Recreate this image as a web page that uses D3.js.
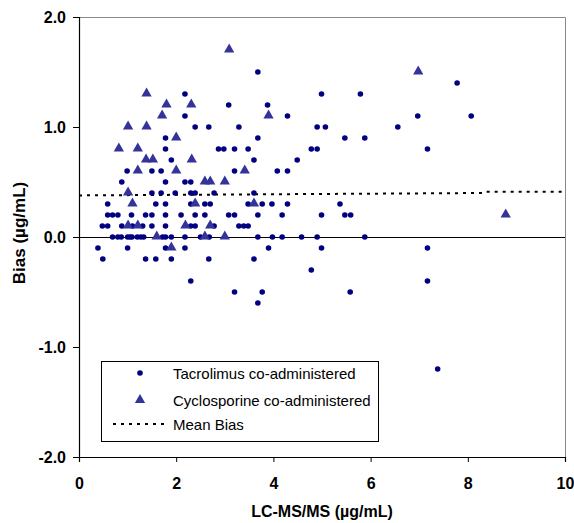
<!DOCTYPE html>
<html>
<head>
<meta charset="utf-8">
<script src="https://cdn.jsdelivr.net/npm/d3@7"></script>
<style>
  body { margin: 0; background: #fff; }
  text { font-family: "Liberation Sans", Arial, sans-serif; }
</style>
</head>
<body>
<svg id="chart" width="574" height="523"></svg>
<script>
// Bias vs LC-MS/MS scatter

// --- Data: [LC-MS/MS, bias] ---
const tacrolimus = [
    [3.68, 1.5], [7.78, 1.4],
    [2.18, 1.3], [4.99, 1.3], [5.79, 1.3],
    [3.08, 1.2], [3.88, 1.2],
    [2.18, 1.1], [4.29, 1.1], [6.97, 1.1], [8.07, 1.1],
    [2.39, 1.0], [2.67, 1.0], [3.29, 1.0], [4.9, 1.0], [5.07, 1.0], [6.56, 1.0],
    [1.78, 0.9], [3.68, 0.9], [5.47, 0.9], [5.88, 0.9],
    [1.78, 0.8], [2.87, 0.8], [2.98, 0.8], [3.2, 0.8], [3.48, 0.8], [4.78, 0.8], [4.9, 0.8], [7.17, 0.8],
    [1.9, 0.7], [3.6, 0.7], [4.49, 0.7],
    [0.99, 0.6], [1.5, 0.6], [1.69, 0.6], [3.2, 0.6], [4.08, 0.6], [4.29, 0.6],
    [0.88, 0.5], [1.78, 0.5], [2.18, 0.5], [2.3, 0.5],
    [1.5, 0.4], [1.69, 0.4], [1.98, 0.4], [2.3, 0.4], [2.39, 0.4], [2.78, 0.4], [3.6, 0.4],
    [0.59, 0.3], [1.58, 0.3], [1.78, 0.3], [2.3, 0.3], [2.59, 0.3], [2.7, 0.3], [3.48, 0.3],
    [3.77, 0.3], [3.97, 0.3], [4.29, 0.3], [5.37, 0.3],
    [0.59, 0.2], [0.69, 0.2], [0.8, 0.2], [1.08, 0.2], [1.37, 0.2], [1.5, 0.2], [1.78, 0.2],
    [2.1, 0.2], [2.39, 0.2], [2.59, 0.2], [3.08, 0.2], [3.2, 0.2], [3.68, 0.2], [4.18, 0.2],
    [4.99, 0.2], [5.47, 0.2], [5.59, 0.2],
    [0.48, 0.1], [0.59, 0.1], [0.88, 0.1], [1.1, 0.1], [1.31, 0.1], [1.5, 0.1], [1.78, 0.1],
    [2.3, 0.1], [2.39, 0.1], [2.78, 0.1], [3.29, 0.1], [3.39, 0.1], [3.48, 0.1],
    [0.69, 0.0], [0.8, 0.0], [0.87, 0.0], [1.0, 0.0], [1.05, 0.0], [1.09, 0.0], [1.2, 0.0],
    [1.27, 0.0], [1.33, 0.0], [1.72, 0.0], [1.78, 0.0], [1.9, 0.0], [2.18, 0.0], [2.5, 0.0],
    [2.68, 0.0], [3.68, 0.0], [3.98, 0.0], [4.18, 0.0], [4.58, 0.0], [4.9, 0.0], [5.88, 0.0],
    [0.39, -0.1], [1.0, -0.1], [1.78, -0.1], [2.18, -0.1], [3.9, -0.1], [4.99, -0.1], [7.17, -0.1],
    [0.49, -0.2], [1.37, -0.2], [1.58, -0.2], [1.9, -0.2], [2.67, -0.2], [3.6, -0.2],
    [4.78, -0.3],
    [2.3, -0.4], [7.17, -0.4],
    [3.2, -0.5], [3.77, -0.5], [5.58, -0.5],
    [3.68, -0.6],
    [7.38, -1.2]
];

const cyclosporine = [
    [3.09, 1.7], [6.98, 1.5], [1.39, 1.3],
    [1.8, 1.2], [2.31, 1.2], [1.71, 1.1], [3.9, 1.1],
    [1.01, 1.0], [1.39, 1.0], [2.0, 0.9],
    [0.82, 0.8], [1.21, 0.8],
    [1.38, 0.7], [1.52, 0.7], [2.32, 0.7],
    [1.21, 0.6], [2.0, 0.6], [3.41, 0.6],
    [2.59, 0.5], [2.7, 0.5], [3.0, 0.5],
    [1.01, 0.4],
    [1.1, 0.3], [2.39, 0.3], [3.6, 0.3],
    [8.78, 0.2],
    [1.01, 0.1], [1.21, 0.1], [2.19, 0.1], [2.7, 0.1],
    [1.6, 0.0], [2.59, 0.0], [3.0, 0.0],
    [1.9, -0.1]
];

const meanBiasX = [0, 8.3, 8.35, 10];
const meanBiasY = [0.378, 0.40, 0.412, 0.412];

const xTicks = [0, 2, 4, 6, 8, 10];
const yTicks = [-2, -1, 0, 1, 2];

const legendLabels = ["Tacrolimus co-administered", "Cyclosporine co-administered", "Mean Bias"];

// --- Layout ---
const svg = d3.select("#chart");
const margin = { top: 17, right: 9, bottom: 66, left: 79 };
const W = 574, H = 523;
const plotW = W - margin.left - margin.right;
const plotH = H - margin.top - margin.bottom;

const x = d3.scaleLinear().domain([0, 10]).range([margin.left, margin.left + plotW]);
const y = d3.scaleLinear().domain([-2, 2]).range([margin.top + plotH, margin.top]);

const navy = "#000080";
const indigo = "#333399";

// plot area frame (top/right grey)
svg.append("path")
    .attr("d", `M${x(0)},${y(2) + 0.5}H${x(10) + 0.5}V${y(-2)}`)
    .attr("fill", "none")
    .attr("stroke", "#888")
    .attr("stroke-width", 1);

// zero line
svg.append("line")
    .attr("x1", x(0)).attr("x2", x(10))
    .attr("y1", Math.round(y(0)) + 0.5).attr("y2", Math.round(y(0)) + 0.5)
    .attr("stroke", "#000").attr("stroke-width", 1.2);

// mean bias line
const line = d3.line().x(d => x(d[0])).y(d => y(d[1]));
svg.append("path")
    .datum(meanBiasX.map((v, i) => [v, meanBiasY[i]]))
    .attr("d", line)
    .attr("fill", "none")
    .attr("stroke", "#000")
    .attr("stroke-width", 2)
    .attr("stroke-dasharray", "3,5");

// --- Axes ---
const xAxis = svg.append("g")
    .attr("transform", `translate(0,${y(-2)})`)
    .call(d3.axisBottom(x).tickValues(xTicks).tickSize(5).tickPadding(16).tickFormat(d3.format("d")));
const yAxis = svg.append("g")
    .attr("transform", `translate(${x(0)},0)`)
    .call(d3.axisLeft(y).tickValues(yTicks).tickSize(6).tickPadding(7).tickFormat(d => d.toFixed(1)));

[xAxis, yAxis].forEach(g => {
    g.select(".domain").attr("stroke", "#000").attr("stroke-width", 1.2);
    g.selectAll(".tick line").attr("stroke", "#000");
    g.selectAll(".tick text")
        .attr("fill", "#000")
        .style("font-family", '"Liberation Sans", Arial, sans-serif')
        .style("font-size", "16px")
        .style("font-weight", "bold");
});

// --- Points ---
svg.append("g").selectAll("circle")
    .data(tacrolimus)
    .join("circle")
    .attr("cx", d => x(d[0]))
    .attr("cy", d => y(d[1]))
    .attr("r", 2.8)
    .attr("fill", navy);

const tri = d3.symbol(d3.symbolTriangle, 46);
svg.append("g").selectAll("path")
    .data(cyclosporine)
    .join("path")
    .attr("d", tri)
    .attr("transform", d => `translate(${x(d[0])},${y(d[1]) - 0.5})`)
    .attr("fill", indigo);

// --- Axis titles ---
svg.append("text")
    .attr("x", x(5))
    .attr("y", 517)
    .attr("text-anchor", "middle")
    .style("font-size", "16px")
    .style("font-weight", "bold")
    .text("LC-MS/MS (µg/mL)");

svg.append("text")
    .attr("transform", "translate(25,233) rotate(-90)")
    .attr("text-anchor", "middle")
    .style("font-size", "17px")
    .style("font-weight", "bold")
    .text("Bias (µg/mL)");

// --- Legend ---
const legend = svg.append("g");
legend.append("rect")
    .attr("x", 101.5).attr("y", 361.5)
    .attr("width", 277).attr("height", 80)
    .attr("fill", "#fff")
    .attr("stroke", "#000");

const rowY = [373, 400, 424];
legend.append("circle").attr("cx", 140).attr("cy", rowY[0]).attr("r", 2.8).attr("fill", navy);
legend.append("path").attr("d", tri).attr("transform", `translate(140,${rowY[1]})`).attr("fill", indigo);
legend.append("line")
    .attr("x1", 113).attr("x2", 166)
    .attr("y1", rowY[2]).attr("y2", rowY[2])
    .attr("stroke", "#000").attr("stroke-width", 2)
    .attr("stroke-dasharray", "3,5");

legend.selectAll("text.lbl")
    .data(legendLabels)
    .join("text")
    .attr("class", "lbl")
    .attr("x", 173)
    .attr("y", (d, i) => rowY[i] + 5.5)
    .style("font-size", "15px")
    .text(d => d);
</script>
</body>
</html>
